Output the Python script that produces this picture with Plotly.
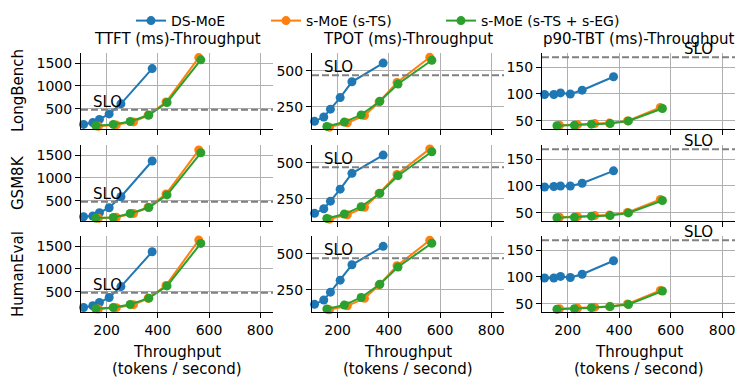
import plotly.graph_objects as go
from plotly.subplots import make_subplots

# Throughput (tokens / second) for each system
THR_DS = [110, 146, 172, 210, 256, 378]
THR_TS = [168, 238, 305, 362, 432, 560]
THR_EG = [158, 226, 292, 365, 436, 568]

DATASETS = ["LongBench", "GSM8K", "HumanEval"]
METRICS = ["TTFT (ms)-Throughput", "TPOT (ms)-Throughput", "p90-TBT (ms)-Throughput"]

# TTFT (ms)
TTFT_DS = [[160, 200, 270, 390, 610, 1380],
           [152, 170, 240, 350, 590, 1370],
           [159, 196, 267, 376, 615, 1376]]
TTFT_TS = [[120, 150, 215, 360, 650, 1620],
           [120, 140, 225, 360, 650, 1610],
           [125, 155, 220, 360, 640, 1630]]
TTFT_EG = [[130, 160, 225, 365, 640, 1570],
           [123, 137, 224, 354, 630, 1550],
           [130, 159, 224, 362, 630, 1558]]

# TPOT (ms)
TPOT_DS = [[150, 180, 235, 315, 425, 555],
           [150, 182, 235, 318, 428, 555],
           [150, 180, 235, 318, 425, 553]]
TPOT_TS = [[110, 140, 190, 285, 420, 595],
           [110, 140, 192, 288, 420, 598],
           [112, 140, 192, 285, 418, 595]]
TPOT_EG = [[115, 145, 195, 290, 410, 575],
           [115, 145, 196, 290, 412, 578],
           [118, 145, 198, 290, 410, 575]]

# p90-TBT (ms)
TBT_DS = [[99, 99, 102, 100, 107, 132],
          [98, 99, 100, 100, 105, 128],
          [98, 98, 101, 99, 105, 130]]
TBT_TS = [[42, 43, 45, 46, 50, 75],
          [42, 43, 45, 46, 51, 75],
          [41, 42, 44, 45, 50, 75]]
TBT_EG = [[41, 42, 44, 45, 50, 73],
          [41, 42, 44, 45, 50, 73],
          [40, 41, 43, 45, 49, 74]]

SLO = [480, 470, 168]
SLO_TEXT_X = [145, 145, 650]
Y_RANGES = [[60, 1720], [97, 625], [35, 176]]
Y_TICKS = [[500, 1000, 1500], [250, 500], [50, 100, 150]]
X_TICKS = [200, 400, 600, 800]

BLUE, ORANGE, GREEN = "#1f77b4", "#ff7f0e", "#2ca02c"
FONT = "DejaVu Sans"
W, H = 747, 389

# panel positions in pixels (left, right) and (top, bottom)
COLS_PX = [(81, 273), (312, 504), (542, 735)]
ROWS_PX = [(53, 129), (145, 221), (236, 312)]
LEGEND_X_PX = [131, 266, 441]

fig = make_subplots(rows=3, cols=3)

series = [
    ("DS-MoE", BLUE, THR_DS, [TTFT_DS, TPOT_DS, TBT_DS]),
    ("s-MoE (s-TS)", ORANGE, THR_TS, [TTFT_TS, TPOT_TS, TBT_TS]),
    ("s-MoE (s-TS + s-EG)", GREEN, THR_EG, [TTFT_EG, TPOT_EG, TBT_EG]),
]

for r in range(3):
    for c in range(3):
        for k, (name, color, xs, metric_vals) in enumerate(series):
            fig.add_trace(go.Scatter(
                x=xs, y=metric_vals[c][r], mode="lines+markers", name=name,
                line=dict(color=color, width=2),
                marker=dict(color=color, size=9),
                showlegend=(r == 0 and c == 0),
                legend="legend" if k == 0 else "legend" + str(k + 1),
                cliponaxis=False,
            ), row=r + 1, col=c + 1)

annotations = []
shapes = []
for r in range(3):
    for c in range(3):
        idx = r * 3 + c + 1
        sfx = "" if idx == 1 else str(idx)
        x0, x1 = COLS_PX[c]
        y0, y1 = ROWS_PX[r]
        fig.layout["xaxis" + sfx].update(
            domain=[x0 / W, x1 / W], range=[100, 850], tickvals=X_TICKS,
            showticklabels=(r == 2), showline=True, linecolor="black", linewidth=1.1,
            ticks="outside", ticklen=5, tickwidth=1.1, tickcolor="black",
            showgrid=True, gridcolor="#b0b0b0", gridwidth=1.1, zeroline=False,
            tickfont=dict(size=14, color="black"), automargin=False,
        )
        fig.layout["yaxis" + sfx].update(
            domain=[1 - y1 / H, 1 - y0 / H], range=Y_RANGES[c], tickvals=Y_TICKS[c],
            showline=True, linecolor="black", linewidth=1.1,
            ticks="outside", ticklen=5, tickwidth=1.1, tickcolor="black",
            showgrid=True, gridcolor="#b0b0b0", gridwidth=1.1, zeroline=False,
            tickfont=dict(size=14, color="black"), automargin=False,
        )
        # SLO line and label
        shapes.append(dict(
            type="line", xref="x" + sfx + " domain", yref="y" + sfx,
            x0=0, x1=1, y0=SLO[c], y1=SLO[c],
            line=dict(color="#808080", width=2, dash="7px,3px"), layer="above",
        ))
        annotations.append(dict(
            x=SLO_TEXT_X[c], y=SLO[c], xref="x" + sfx, yref="y" + sfx,
            text="SLO", showarrow=False, xanchor="left", yanchor="bottom",
            yshift=-3, xshift=-2, font=dict(size=15, color="black", family=FONT),
        ))

# column titles and x-axis titles
for c in range(3):
    x0, x1 = COLS_PX[c]
    xc = (x0 + x1) / 2 / W
    annotations.append(dict(
        x=xc, y=1 - ROWS_PX[0][0] / H, xref="paper", yref="paper",
        text=METRICS[c], showarrow=False, xanchor="center", yanchor="bottom",
        yshift=3, font=dict(size=15, color="black", family=FONT),
    ))
    annotations.append(dict(
        x=xc, y=1 - 352 / H, xref="paper", yref="paper",
        text="Throughput", showarrow=False, xanchor="center", yanchor="middle",
        font=dict(size=15, color="black", family=FONT),
    ))
    annotations.append(dict(
        x=xc, y=1 - 369 / H, xref="paper", yref="paper",
        text="(tokens / second)", showarrow=False, xanchor="center", yanchor="middle",
        font=dict(size=15, color="black", family=FONT),
    ))

# row labels
for r in range(3):
    y0, y1 = ROWS_PX[r]
    annotations.append(dict(
        x=18 / W, y=1 - (y0 + y1) / 2 / H, xref="paper", yref="paper",
        text=DATASETS[r], showarrow=False, textangle=-90,
        xanchor="center", yanchor="middle",
        font=dict(size=15, color="black", family=FONT),
    ))

legend_style = dict(
    orientation="h", y=1 - 21 / H, xanchor="left", yanchor="middle",
    font=dict(size=14, color="black"), bgcolor="rgba(0,0,0,0)",
    itemwidth=30, tracegroupgap=0,
)
fig.update_layout(
    width=W, height=H,
    margin=dict(l=0, r=0, t=0, b=0, autoexpand=False),
    paper_bgcolor="white", plot_bgcolor="white",
    font=dict(family=FONT, size=14, color="black"),
    annotations=annotations, shapes=shapes,
    legend=dict(x=LEGEND_X_PX[0] / W, **legend_style),
    legend2=dict(x=LEGEND_X_PX[1] / W, **legend_style),
    legend3=dict(x=LEGEND_X_PX[2] / W, **legend_style),
)

# drop the browser's default page margin so the figure sits at the window origin
fig.write_html("out.html", config={"displayModeBar": False},
               post_script="document.body.style.margin='0';")
